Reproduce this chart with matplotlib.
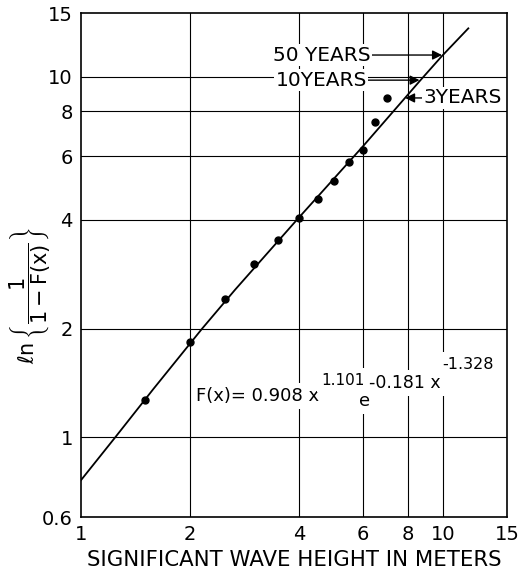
import numpy as np
import matplotlib.pyplot as plt

plt.rcParams['mathtext.default'] = 'regular'

# puntos observados (altura significativa vs ln(1/(1-F)))
wave_height = [1.5, 2.0, 2.5, 3.0, 3.5, 4.0, 4.5, 5.0, 5.5, 6.0, 6.5, 7.0]
ln_term = [1.27, 1.84, 2.42, 3.01, 3.53, 4.04, 4.57, 5.13, 5.78, 6.25, 7.48, 8.7]

# curva ajustada (puntos leidos sobre la curva del grafico)
fit_x = [1.0, 1.244, 1.584, 2.16, 2.66, 3.94, 6.0, 8.6, 9.92, 11.73]
fit_y = [0.76, 1.0, 1.36, 2.0, 2.56, 4.0, 6.4, 9.7, 11.4, 13.6]

x_ticks = [1, 2, 4, 6, 8, 10, 15]
x_labels = ['1', '2', '4', '6', '8', '10', '15']
y_ticks = [0.6, 1, 2, 4, 6, 8, 10, 15]
y_labels = ['0.6', '1', '2', '4', '6', '8', '10', '15']
grid_x = [2, 4, 6, 8, 10]
grid_y = [1, 2, 4, 6, 8, 10]

fig = plt.figure(figsize=(5.2, 5.76), dpi=100)
ax = fig.add_axes([0.156, 0.1024, 0.819, 0.875])
ax.set_xscale('log')
ax.set_yscale('log')
ax.set_xlim(1, 15)
ax.set_ylim(0.6, 15)

ax.set_xticks(x_ticks)
ax.set_xticklabels(x_labels)
ax.set_yticks(y_ticks)
ax.set_yticklabels(y_labels)
ax.minorticks_off()
ax.tick_params(length=0, labelsize=14, pad=6)

for v in grid_x:
    ax.axvline(v, color='k', lw=0.8, zorder=1)
for v in grid_y:
    ax.axhline(v, color='k', lw=0.8, zorder=1)
for s in ax.spines.values():
    s.set_linewidth(1.2)

ax.plot(fit_x, fit_y, color='k', lw=1.3, zorder=3)
ax.plot(wave_height, ln_term, 'o', color='k', ms=5, zorder=4)

ax.set_xlabel('SIGNIFICANT WAVE HEIGHT IN METERS', fontsize=15.3, labelpad=4)
ax.set_ylabel(r'$\ell n\,\left\{\dfrac{1}{1-F(x)}\right\}$', fontsize=15)
ax.yaxis.set_label_coords(-0.065, 0.44)

# ecuacion, por piezas como en el original
box = dict(fc='white', ec='none', pad=3)
def px(x, y):
    return ((x - 81) / 426, (517 - y) / 504)

pieces = [
    ('F(x)= 0.908 x', 196, 396, 13),
    ('1.101', 321, 380, 11),
    ('e', 359, 401, 13),
    ('-0.181 x', 369, 383, 12.5),
    ('-1.328', 442, 364, 11.5),
]
for txt, x0, y0, fs in pieces:
    ax.text(*px(x0, y0), txt, fontsize=fs, va='center', ha='left',
            transform=ax.transAxes, bbox=box, zorder=5)

arrow = dict(arrowstyle='-|>', color='k', lw=1, mutation_scale=14, shrinkA=0, shrinkB=0)
box2 = dict(fc='white', ec='none', pad=1)
ax.annotate('50 YEARS', xy=(9.92, 11.47), xytext=(3.39, 11.47), fontsize=14.5,
            va='center', ha='left', arrowprops=arrow, bbox=box2, zorder=5)
ax.annotate('10YEARS', xy=(8.60, 9.77), xytext=(3.44, 9.77), fontsize=14.5,
            va='center', ha='left', arrowprops=arrow, bbox=box2, zorder=5)
ax.annotate('3YEARS', xy=(7.85, 8.72), xytext=(8.81, 8.72), fontsize=14.5,
            va='center', ha='left', arrowprops=arrow, bbox=box2, zorder=5)

plt.savefig('out.png', dpi=100)
